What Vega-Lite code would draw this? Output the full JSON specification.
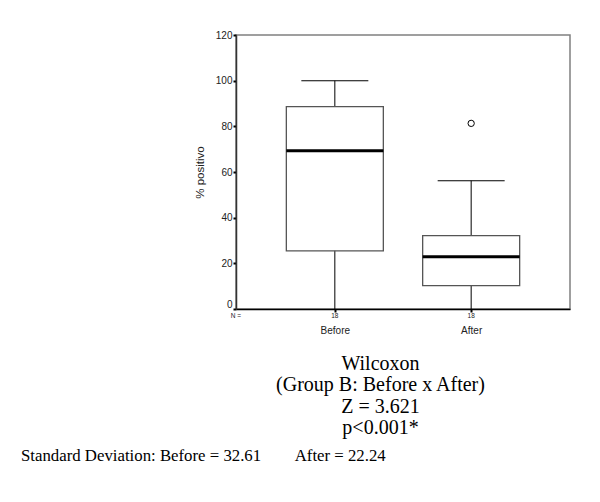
{
  "$schema": "https://vega.github.io/schema/vega-lite/v6.json",
  "width": 334,
  "height": 274,
  "autosize": {"type": "none"},
  "padding": {"left": 236, "top": 35, "right": 30, "bottom": 193},
  "background": "white",
  "config": {
    "view": {"stroke": "#808080", "strokeWidth": 1.5},
    "axis": {"grid": false}
  },
  "title": {
    "text": "Standard Deviation: Before = 32.61\u00a0\u00a0\u00a0\u00a0\u00a0\u00a0\u00a0\u00a0After = 22.24",
    "orient": "bottom",
    "anchor": "start",
    "frame": "group",
    "dx": -215,
    "offset": 10,
    "font": "Liberation Serif",
    "fontSize": 16.8,
    "fontWeight": "normal",
    "color": "black",
    "baseline": "top"
  },
  "datasets": {
    "stats": [
      {"group": "Before", "n": 18, "lower": 0, "q1": 25.5, "median": 69.3, "q3": 88.6, "upper": 100},
      {"group": "After", "n": 18, "lower": 0, "q1": 10.2, "median": 22.9, "q3": 32.1, "upper": 56.2}
    ],
    "outliers": [
      {"group": "After", "value": 81.3}
    ],
    "nlabel": [
      {"label": "N =", "pos": 0}
    ]
  },
  "resolve": {"scale": {"x": "independent"}, "axis": {"x": "independent"}},
  "layer": [
    {
      "layer": [
        {
          "data": {"name": "stats"},
          "mark": {"type": "rule", "color": "black", "strokeWidth": 1},
          "encoding": {
            "x": {
              "field": "group",
              "type": "nominal",
              "sort": ["Before", "After"],
              "scale": {"type": "point", "padding": 0.725, "domain": ["Before", "After"]},
              "axis": {
                "zindex": 1,
                "labelAngle": 0,
                "labelFont": "Liberation Sans",
                "labelFontSize": 10,
                "labelColor": "#222",
                "labelPadding": 13,
                "tickSize": 3,
                "tickWidth": 2,
                "tickColor": "black",
                "domainColor": "black",
                "domainWidth": 1.5,
                "title": ["Wilcoxon", "(Group B: Before x After)", "Z = 3.621", "p<0.001*"],
                "titleFont": "Liberation Serif",
                "titleFontSize": 20,
                "titleFontWeight": "normal",
                "titleColor": "black",
                "titleLineHeight": 21.5,
                "titleX": 144,
                "titleY": 44,
                "titleAlign": "center",
                "titleBaseline": "top",
                "titleAngle": 0
              }
            },
            "y": {
              "field": "lower",
              "type": "quantitative",
              "scale": {"domain": [0, 120], "nice": false, "zero": true},
              "axis": {
                "zindex": 1,
                "values": [0, 20, 40, 60, 80, 100, 120],
                "labelFont": "Liberation Sans",
                "labelFontSize": 10,
                "labelOffset": {"condition": {"test": "datum.value === 0", "value": -5}, "value": 0},
                "labelBaseline": "middle",
                "labelColor": "#222",
                "labelPadding": 1,
                "labelOverlap": false,
                "labelFlush": false,
                "labelBound": false,
                "tickColor": "black",
                "tickSize": 3,
                "tickWidth": 2,
                "domainColor": "#333",
                "domainWidth": 1.5,
                "title": "% positivo",
                "titleFont": "Liberation Sans",
                "titleFontSize": 11.5,
                "titleFontWeight": "normal",
                "titleColor": "#222",
                "titleAngle": -90,
                "titleX": -36,
                "titleY": 137,
                "titleAlign": "center",
                "titleBaseline": "middle"
              }
            },
            "y2": {"field": "upper"}
          }
        },
        {
          "data": {"name": "stats"},
          "mark": {"type": "bar", "fill": "white", "stroke": "#555", "strokeWidth": 1.3, "size": 97, "opacity": 1},
          "encoding": {
            "x": {"field": "group", "type": "nominal"},
            "y": {"field": "q1", "type": "quantitative"},
            "y2": {"field": "q3"}
          }
        },
        {
          "data": {"name": "stats"},
          "mark": {"type": "tick", "color": "black", "size": 97, "thickness": 3, "opacity": 1},
          "encoding": {
            "x": {"field": "group", "type": "nominal"},
            "y": {"field": "median", "type": "quantitative"}
          }
        },
        {
          "data": {"name": "stats"},
          "mark": {"type": "tick", "color": "black", "size": 67, "thickness": 1, "opacity": 1},
          "encoding": {
            "x": {"field": "group", "type": "nominal"},
            "y": {"field": "upper", "type": "quantitative"}
          }
        },
        {
          "data": {"name": "stats"},
          "mark": {"type": "text", "font": "Liberation Sans", "fontSize": 6.5, "color": "#222", "baseline": "middle", "align": "center"},
          "encoding": {
            "x": {"field": "group", "type": "nominal"},
            "y": {"datum": -3.2, "type": "quantitative"},
            "text": {"field": "n", "type": "quantitative"}
          }
        },
        {
          "data": {"name": "outliers"},
          "mark": {"type": "point", "shape": "circle", "filled": false, "color": "black", "strokeWidth": 1, "size": 40, "opacity": 1},
          "encoding": {
            "x": {"field": "group", "type": "nominal"},
            "y": {"field": "value", "type": "quantitative"}
          }
        }
      ]
    },
    {
      "data": {"name": "nlabel"},
      "mark": {"type": "text", "font": "Liberation Sans", "fontSize": 6.5, "color": "#222", "baseline": "middle", "align": "center"},
      "encoding": {
        "x": {"field": "pos", "type": "quantitative", "scale": {"domain": [0, 1]}, "axis": null},
        "y": {"datum": -3.2, "type": "quantitative"},
        "text": {"field": "label", "type": "nominal"}
      }
    }
  ]
}
